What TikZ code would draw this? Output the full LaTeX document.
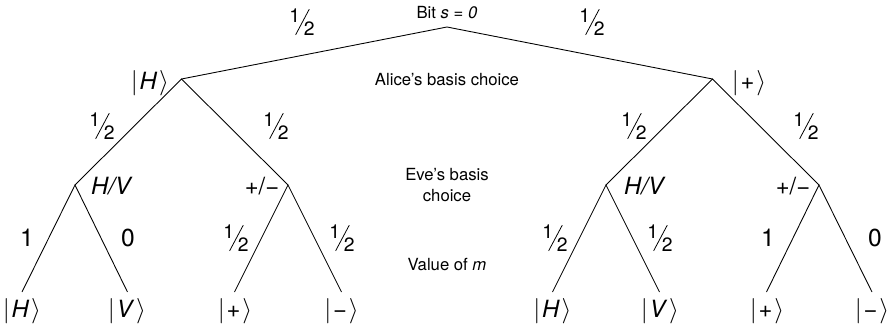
\documentclass[tikz,border=0pt]{standalone}
\usepackage{graphicx}
\usepackage{fontspec}
\setmainfont{TeX Gyre Heros}

\newcommand{\half}{{\fontsize{11}{11}\selectfont\raisebox{7pt}{1}\kern-2.8pt\rotatebox{62}{\rule{16.5pt}{0.45pt}}\kern-3.3pt 2}}
\newcommand{\qket}[1]{$\Big|$\kern1pt#1\kern1pt$\Big\rangle$}

\begin{document}
\begin{tikzpicture}[
    every node/.style={inner sep=1pt},
    edge/.style={line width=0.5pt},
    note/.style={font=\fontsize{9.5}{11.5}\selectfont, align=center},
    prob/.style={font=\fontsize{14}{16}\selectfont},
    basis/.style={font=\fontsize{13.5}{15}\selectfont},
    state/.style={font=\fontsize{13.5}{15}\selectfont},
]
\useasboundingbox (-8.94,0.54) rectangle (8.92,-6.10);

% Tree vertices
\coordinate (root) at (0,0);
\coordinate (aliceH) at (-5.31,-1.04);
\coordinate (aliceP) at (5.31,-1.04);
\coordinate (eveHV1) at (-7.44,-3.16);
\coordinate (evePM1) at (-3.18,-3.16);
\coordinate (eveHV2) at (3.18,-3.16);
\coordinate (evePM2) at (7.44,-3.16);

% Leaves
\coordinate (leafA) at (-8.50,-5.30);
\coordinate (leafB) at (-6.39,-5.30);
\coordinate (leafC) at (-4.25,-5.30);
\coordinate (leafD) at (-2.11,-5.30);
\coordinate (leafE) at (2.11,-5.30);
\coordinate (leafF) at (4.25,-5.30);
\coordinate (leafG) at (6.39,-5.30);
\coordinate (leafH) at (8.50,-5.30);

% Edges
\draw[edge] (aliceH) -- (root) -- (aliceP);
\draw[edge] (eveHV1) -- (aliceH) -- (evePM1);
\draw[edge] (eveHV2) -- (aliceP) -- (evePM2);
\draw[edge] (leafA) -- (eveHV1) -- (leafB);
\draw[edge] (leafC) -- (evePM1) -- (leafD);
\draw[edge] (leafE) -- (eveHV2) -- (leafF);
\draw[edge] (leafG) -- (evePM2) -- (leafH);

% Row captions
\node[note] (bit) at (0,0.28) {Bit \textit{s = 0}};
\node[note] (alice) at (0,-1.06) {Alice’s basis choice};
\node[note] (eve) at (0,-3.16) {Eve’s basis\\choice};
\node[note] (value) at (0,-4.76) {Value of \textit{m}};

% Probabilities, top
\node[prob] (pTopL) at (-2.90,0.10) {\half};
\node[prob] (pTopR) at (2.90,0.10) {\half};

% Alice's states
\node[state] (kAliceH) at (-5.94,-1.12) {\qket{\textit{H}}};
\node[state] (kAliceP) at (6.04,-1.12) {\qket{+}};

% Probabilities, Alice to Eve
\node[prob] (p1) at (-6.90,-1.98) {\half};
\node[prob] (p2) at (-3.42,-1.98) {\half};
\node[prob] (p3) at (3.74,-1.98) {\half};
\node[prob] (p4) at (7.18,-1.98) {\half};

% Eve's bases
\node[basis] (bHV1) at (-6.70,-3.18) {\textit{H/V}};
\node[basis] (bPM1) at (-3.70,-3.18) {+/−};
\node[basis] (bHV2) at (3.96,-3.18) {\textit{H/V}};
\node[basis] (bPM2) at (6.92,-3.18) {+/−};

% Probabilities, Eve to result
\node[prob] (q1) at (-8.40,-4.22) {1};
\node[prob] (q2) at (-6.38,-4.22) {0};
\node[prob] (q3) at (-4.22,-4.22) {\half};
\node[prob] (q4) at (-2.10,-4.22) {\half};
\node[prob] (q5) at (2.16,-4.22) {\half};
\node[prob] (q6) at (4.26,-4.22) {\half};
\node[prob] (q7) at (6.42,-4.22) {1};
\node[prob] (q8) at (8.56,-4.22) {0};

% Results
\node[state] (kA) at (-8.50,-5.68) {\qket{\textit{H}}};
\node[state] (kB) at (-6.40,-5.68) {\qket{\textit{V}}};
\node[state] (kC) at (-4.24,-5.68) {\qket{+}};
\node[state] (kD) at (-2.11,-5.68) {\qket{−}};
\node[state] (kE) at (2.11,-5.68) {\qket{\textit{H}}};
\node[state] (kF) at (4.26,-5.68) {\qket{\textit{V}}};
\node[state] (kG) at (6.40,-5.68) {\qket{+}};
\node[state] (kH) at (8.50,-5.68) {\qket{−}};
\end{tikzpicture}
\end{document}
